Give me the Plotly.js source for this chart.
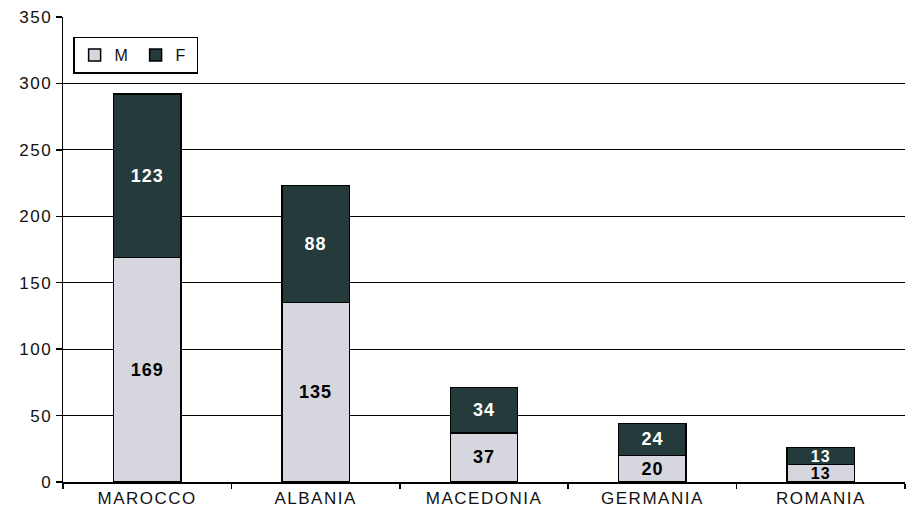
<!DOCTYPE html>
<html><head><meta charset="utf-8">
<script src="https://cdn.plot.ly/plotly-3.0.1.min.js"></script>
<style>
html,body{margin:0;padding:0;background:#fff}
#chart .xtick text, #chart .ytick text, #chart .legendtext {letter-spacing:1.5px}
#chart text.bartext {letter-spacing:1px}
</style>
</head><body>
<div id="chart" style="width:906px;height:523px"></div>
<script>
const categories = ["MAROCCO", "ALBANIA", "MACEDONIA", "GERMANIA", "ROMANIA"];
const valuesM = [169, 135, 37, 20, 13];
const valuesF = [123, 88, 34, 24, 13];
const yTicks = [0, 50, 100, 150, 200, 250, 300, 350];

const FAM = "Liberation Sans, Arial, sans-serif";
const font = {family: FAM, size: 17, color: "#111"};
const labelFont = (c) => ({family: FAM, size: [18, 18, 18, 18, 16], color: c, weight: "bold"});
const traces = [
  {type: "bar", name: "M", x: categories, y: valuesM,
   marker: {color: "#d6d6de", line: {color: "#000", width: 1.5}},
   text: valuesM.map(String), textposition: "inside", insidetextanchor: "middle",
   textangle: 0, constraintext: "none",
   textfont: labelFont("#000"), hoverinfo: "skip"},
  {type: "bar", name: "F", x: categories, y: valuesF,
   marker: {color: "#253a3b", line: {color: "#000", width: 1.5}},
   text: valuesF.map(String), textposition: "inside", insidetextanchor: "middle",
   textangle: 0, constraintext: "none",
   textfont: labelFont("#fff"), hoverinfo: "skip"}
];
const layout = {
  width: 906, height: 523,
  margin: {l: 63, r: 1, t: 17, b: 41},
  barmode: "stack", bargap: 0.6,
  paper_bgcolor: "#fff", plot_bgcolor: "#fff",
  font: font,
  showlegend: true,
  legend: {orientation: "h", x: 0.012, y: 0.958, xanchor: "left", yanchor: "top",
           bordercolor: "#000", borderwidth: 1.5, bgcolor: "#fff",
           font: {family: FAM, size: 16, color: "#111"}, itemwidth: 30,
           entrywidth: 16, entrywidthmode: "pixels",
           traceorder: "normal", tracegroupgap: 0},
  xaxis: {type: "category", showgrid: false, showline: true, linecolor: "#000", linewidth: 1.5,
          ticks: "outside", tickson: "boundaries", ticklen: 5, tickcolor: "#000", tickwidth: 1.5,
          tickfont: font, fixedrange: true},
  yaxis: {range: [0, 350], tickvals: yTicks, ticktext: yTicks.map(String),
          showgrid: true, gridcolor: "#000", gridwidth: 1.2,
          showline: true, linecolor: "#000", linewidth: 1.5,
          ticks: "outside", ticklen: 6, tickcolor: "#000", tickwidth: 1.5,
          ticklabelstandoff: 0,
          tickfont: font, zeroline: false, fixedrange: true}
};
Plotly.newPlot("chart", traces, layout, {displayModeBar: false, staticPlot: true});
</script>
</body></html>
